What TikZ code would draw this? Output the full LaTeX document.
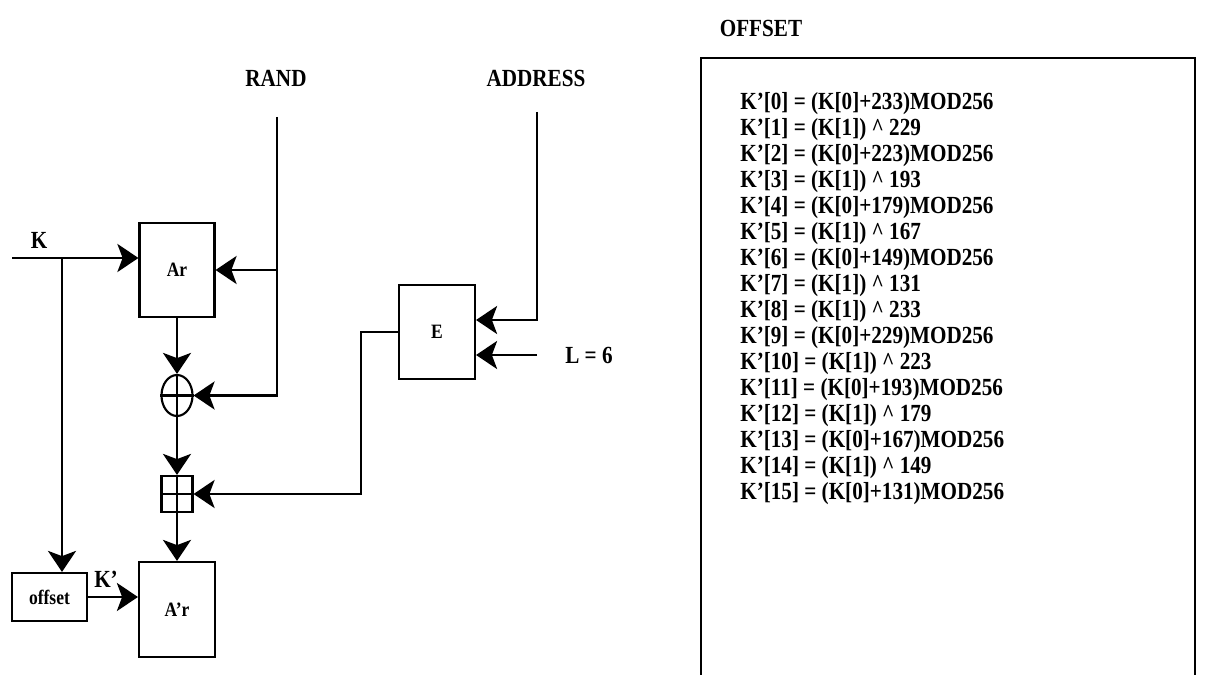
\documentclass[tikz,border=0pt]{standalone}
\usepackage{fontspec}
\setmainfont[FakeStretch=0.86]{Liberation Serif}
\usetikzlibrary{arrows.meta,positioning,shapes.geometric,calc}
\tikzset{
  box/.style={draw, line width=1.2pt, minimum width=1.5cm, minimum height=1.88cm,
              font=\fontsize{11.6}{13}\selectfont\bfseries, inner sep=0pt},
  opbox/.style={draw, line width=1.2pt, inner sep=0pt, minimum width=0.62cm},
  ar/.style={-{Stealth[length=12pt,width=16pt,inset=3pt]}, line width=1.2pt},
  wire/.style={line width=1.2pt},
  lbl/.style={font=\fontsize{14}{16}\selectfont\bfseries, inner sep=0pt},
  eqn/.style={lbl, anchor=west}
}

\begin{document}
\begin{tikzpicture}[x=0.02cm,y=-0.02cm]
  \useasboundingbox (0,0) rectangle (1208,675);

  % blocks
  \node[box] (ar) at (177,270) {Ar};
  \node[box, minimum width=1.52cm, minimum height=1.9cm] (arp) at (177,609.5) {A'r};
  \node[box, minimum width=1.52cm] (enc) at (437,332) {E};
  \node[box, minimum height=0.96cm] (off) at (49.5,597) {offset};
  \node[opbox, ellipse, minimum height=0.82cm] (xor) at (177,395.5) {};
  \node[opbox, minimum height=0.72cm] (add) at (177,494) {};
  \draw[wire] (xor.north) -- (xor.south) (xor.west) -- (xor.east);
  \draw[wire] (add.north) -- (add.south) (add.west) -- (add.east);

  % labels
  \node[lbl] (klbl) at (39,240) {K};
  \node[lbl] (rand) at (276,78) {RAND};
  \node[lbl] (addr) at (536,78) {ADDRESS};
  \node[lbl] (lval) at (589,355) {L = 6};
  \node[lbl] (kp) at (106,579) {K'};
  \node[lbl] (title) at (761,28) {OFFSET};

  % free ends
  \coordinate (kin) at (12,258);
  \coordinate (kbr) at (62,258);
  \coordinate (randtop) at (277,117);
  \coordinate (addrtop) at (537,112);
  \coordinate (lin) at (537,355);

  % connectors
  \draw[ar] (kin) -- (kin -| ar.west);
  \draw[ar] (kbr) -- (kbr |- off.north);
  \draw[ar] (randtop) |- (xor.east);
  \draw[ar] (randtop |- ar.east) -- (ar.east);
  \draw[ar] (ar.south) -- (xor.north);
  \draw[ar] (xor.south) -- (add.north);
  \draw[ar] (add.south) -- (arp.north);
  \draw[ar] (addrtop) |- ($(enc.east)+(0,-12)$);
  \draw[ar] (lin) -- (lin -| enc.east);
  \draw[ar] (enc.west) -- ++(-37,0) |- (add.east);
  \draw[ar] (off.east) -- (off.east -| arp.west);

  % offset table
  \draw[wire] (701,675) -- (701,58) -- (1195,58) -- (1195,675);
  \foreach \i/\t in {0/{(K[0]+233)MOD256}, 1/{(K[1]) \textasciicircum{} 229},
                     2/{(K[0]+223)MOD256}, 3/{(K[1]) \textasciicircum{} 193},
                     4/{(K[0]+179)MOD256}, 5/{(K[1]) \textasciicircum{} 167},
                     6/{(K[0]+149)MOD256}, 7/{(K[1]) \textasciicircum{} 131},
                     8/{(K[1]) \textasciicircum{} 233}, 9/{(K[0]+229)MOD256},
                     10/{(K[1]) \textasciicircum{} 223}, 11/{(K[0]+193)MOD256},
                     12/{(K[1]) \textasciicircum{} 179}, 13/{(K[0]+167)MOD256},
                     14/{(K[1]) \textasciicircum{} 149}, 15/{(K[0]+131)MOD256}}
    \node[eqn] (k\i) at (740,104+26*\i) {K'[\i] = \t};
\end{tikzpicture}
\end{document}
